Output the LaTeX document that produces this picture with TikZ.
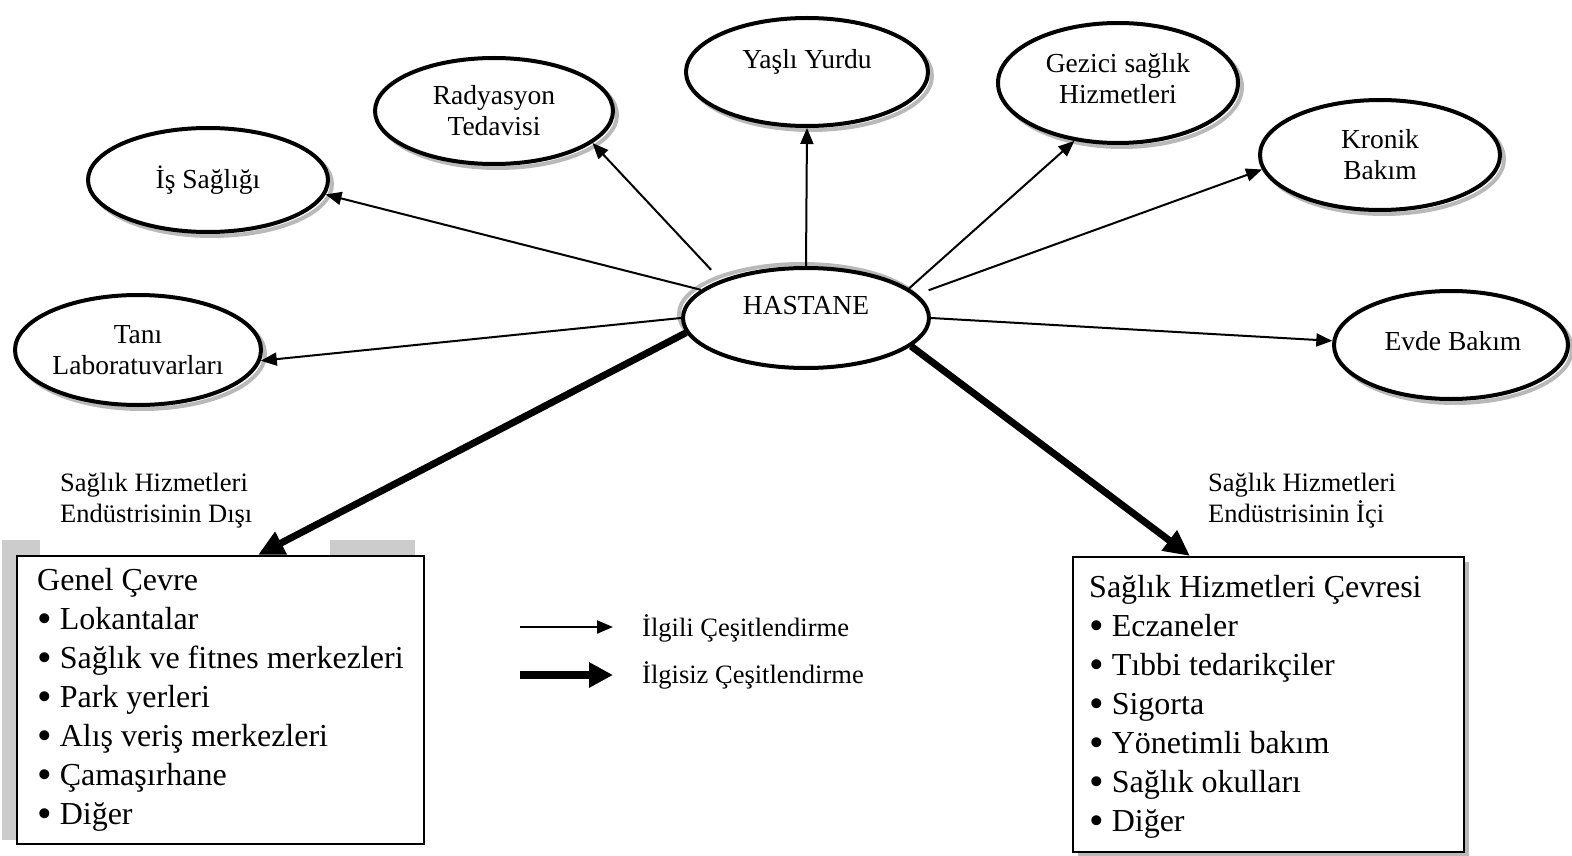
\documentclass[tikz,border=0pt]{standalone}
\usepackage{fontspec}
\setmainfont{Liberation Serif}
\usetikzlibrary{shapes.geometric,arrows.meta,calc}
\newcommand\mybul{\raisebox{-0.1em}{\scalebox{1.3}{•}}\hspace{0.25em}}
\begin{document}
\begin{tikzpicture}[x=1pt,y=-1pt,
  ell/.style={ellipse,draw,line width=4,fill=white,inner sep=0,font=\fontsize{27.5}{31}\selectfont,align=center},
  shd/.style={ellipse,draw=gray!55,line width=4,inner sep=0},
  etext/.style={font=\fontsize{27.5}{31}\selectfont,align=center,inner sep=0},
  thinarr/.style={line width=2,-{Triangle[length=16,width=13]}},
  thickarr/.style={line width=7,-{Triangle[length=26,width=24]}},
  boxnode/.style={draw,line width=2,fill=white,anchor=north west,inner sep=0},
  boxtext/.style={anchor=west,align=left,inner sep=0,font=\fontsize{32}{39}\selectfont},
  lbl/.style={font=\fontsize{26.5}{31}\selectfont,align=left,inner sep=0,anchor=west}]
\useasboundingbox (0,0) rectangle (1572,856);
% shadows
\foreach \cx/\cy/\w/\h in {208/180/240/104, 494/111/238/106, 807/72/242/108, 1118/83/240/120, 1380/155/240/110, 1451/345/234/108, 138/350/246/110}
  \node[shd,minimum width=\w,minimum height=\h] at (\cx+4,\cy+4) {};
\node[shd,minimum width=246,minimum height=100] at (802,314) {};
% ellipses
\node[ell,minimum width=240,minimum height=104] (iss) at (208,180) {İş Sağlığı};
\node[ell,minimum width=238,minimum height=106] (rad) at (494,111) {Radyasyon\\Tedavisi};
\node[ell,minimum width=242,minimum height=108] (yas) at (807,72) {};
\node[etext] (yast) at (807,62) {Yaşlı Yurdu};
\node[ell,minimum width=240,minimum height=120] (gez) at (1118,83) {};
\node[etext] (gezt) at (1118,79) {Gezici sağlık\\Hizmetleri};
\node[ell,minimum width=240,minimum height=110] (kro) at (1380,155) {Kronik\\Bakım};
\node[ell,minimum width=234,minimum height=108] (evd) at (1451,345) {};
\node[etext] (evdt) at (1453,341) {Evde Bakım};
\node[ell,minimum width=246,minimum height=110] (tan) at (138,350) {Tanı\\Laboratuvarları};
\node[ell,minimum width=246,minimum height=100] (H) at (806,318) {};
\node[etext] (Ht) at (806,306) {HASTANE};
% boxes
\fill[gray!40] (2,540) rectangle (415,840);
\fill[white] (40,528) rectangle (330,555);
\node[boxnode,minimum width=407,minimum height=288] (L) at (16,555) {};
\node[boxtext] (Lt) at (37,700) {Genel Çevre\\\mybul Lokantalar\\\mybul Sağlık ve fitnes merkezleri\\\mybul Park yerleri\\\mybul Alış veriş merkezleri\\\mybul Çamaşırhane\\\mybul Diğer};
\fill[gray!55] (1078,562) rectangle (1469,857);
\node[boxnode,minimum width=391,minimum height=295] (R) at (1072,556) {};
\node[boxtext] (Rt) at (1089,707) {Sağlık Hizmetleri Çevresi\\\mybul Eczaneler\\\mybul Tıbbi tedarikçiler\\\mybul Sigorta\\\mybul Yönetimli bakım\\\mybul Sağlık okulları\\\mybul Diğer};
% labels
\node[lbl] (ldisi) at (60,501) {Sağlık Hizmetleri\\Endüstrisinin Dışı};
\node[lbl] (lici) at (1208,501) {Sağlık Hizmetleri\\Endüstrisinin İçi};
% connectors
\draw[thinarr] (H.165) -- (iss.-7);
\draw[thinarr,shorten <=14] (H.156) -- (rad.-18);
\draw[thinarr] (H.90) -- (yas.-90);
\draw[thinarr] (H.16) -- (gez.-127);
\draw[thinarr,shorten <=12] (H.12) -- (kro.187);
\draw[thinarr] (H.0) -- (evd.178);
\draw[thinarr] (H.180) -- (tan.-5);
\draw[thickarr] (H.187) -- ($(L.north west)+(242,0)$);
\draw[thickarr] (H.-15) -- ($(R.north west)+(118,0)$);
% legend
\coordinate (la1) at (520,627);
\coordinate (lb1) at (613,627);
\coordinate (la2) at (520,675);
\coordinate (lb2) at (613,675);
\draw[thinarr] (la1) -- (lb1);
\draw[line width=8,-{Triangle[length=24,width=24]}] (la2) -- (lb2);
\node[lbl] (leg1) at (642,628) {İlgili Çeşitlendirme};
\node[lbl] (leg2) at (642,675) {İlgisiz Çeşitlendirme};
\end{tikzpicture}
\end{document}
